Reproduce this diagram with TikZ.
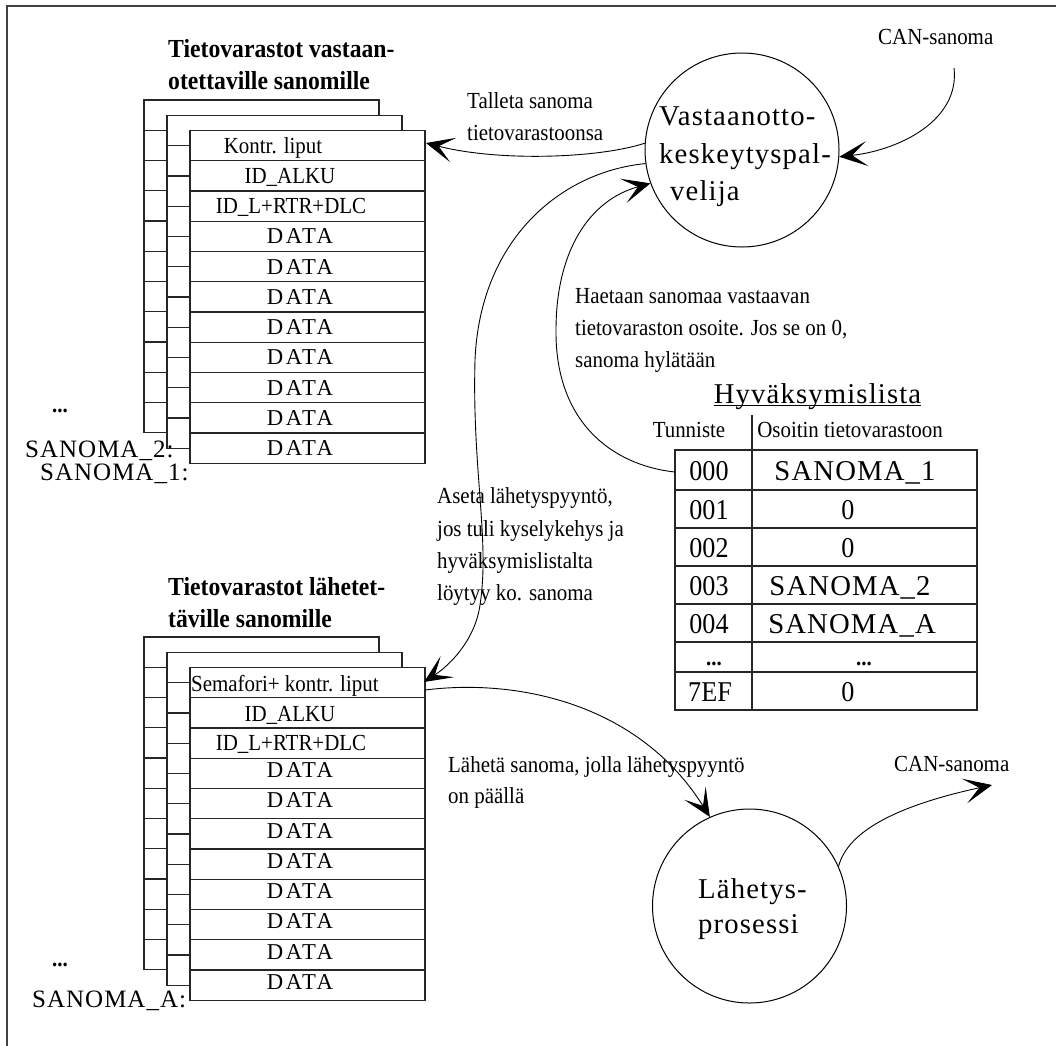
\documentclass[tikz,border=0pt]{standalone}
\usepackage{fontspec}
\setmainfont{Liberation Serif}
\newfontfamily\bodyfont[FakeStretch=0.91]{Liberation Serif}
\newfontfamily\spacedfont[LetterSpace=4]{Liberation Serif}
\newfontfamily\datafont[LetterSpace=11]{Liberation Serif}
\usetikzlibrary{arrows.meta}

% three overlapping record tables, back to front; #1 = top edge of the back table
\newcommand\drawstack[1]{%
  \foreach \dx/\dy in {0/0,23/15.5,46/30.5}{%
    \filldraw[tabline,fill=white] (144+\dx,#1+\dy) rectangle ++(235,332.75);
    \foreach \r in {1,...,10}{\draw[tabline] (144+\dx,{#1+\dy+30.25*\r}) -- ++(235,0);}
  }}

\begin{document}
\begin{tikzpicture}[x=1pt,y=-1pt,
  tabline/.style={line width=1.2pt,draw=black!85},
  conn/.style={line width=0.9pt,-{Stealth[length=28pt,width=25pt,inset=15pt]}},
  proc/.style={circle,draw,line width=1pt,minimum size=194pt,inner sep=0pt},
  body/.style={font=\bodyfont\fontsize{23}{28}\selectfont,inner sep=0pt,anchor=base west},
  bodyc/.style={body,anchor=base},
  heading/.style={font=\bodyfont\fontsize{26}{32}\selectfont\bfseries,inner sep=0pt,anchor=base west},
  celltxt/.style={font=\bodyfont\fontsize{23}{28}\selectfont,inner sep=0pt,anchor=base},
  datatxt/.style={font=\datafont\fontsize{22.7}{28}\selectfont,inner sep=0pt,anchor=base},
  proctxt/.style={font=\spacedfont\fontsize{28.7}{34}\selectfont,inner sep=0pt,anchor=base west},
  reclbl/.style={font=\spacedfont\fontsize{25}{30}\selectfont,inner sep=0pt,anchor=base west},
  dots/.style={font=\bodyfont\fontsize{23}{28}\selectfont\bfseries,inner sep=0pt,anchor=base west},
  bigcell/.style={font=\bodyfont\fontsize{28.7}{34}\selectfont,inner sep=0pt,anchor=base},
  bigspaced/.style={font=\spacedfont\fontsize{28.7}{34}\selectfont,inner sep=0pt,anchor=base}
]
\useasboundingbox (0,0) rectangle (1056,1045);

% outer frame
\draw[line width=2pt,black!75] (1060,6) -- (7,6) -- (7,1050);

% ---------- receive buffers ----------
\node[heading] (ttlRx1) at (168,57.5) {Tietovarastot vastaan-};
\node[heading] (ttlRx2) at (168,89) {otettaville sanomille};
\drawstack{100}
\node[celltxt] (rxC1) at (273,153.1) {Kontr. liput};
\node[celltxt] (rxC2) at (290,183.4) {ID\_ALKU};
\node[celltxt] (rxC3) at (291,213.6) {ID\_L+RTR+DLC};
\foreach \i in {4,...,11}{\node[datatxt] (rxD\i) at (300,{122.9+30.25*\i}) {DATA};}
\node[dots] (rxDots) at (52,412) {...};
\node[reclbl] (rxLbl2) at (25,457) {SANOMA\_2:};
\node[reclbl] (rxLbl1) at (40,480) {SANOMA\_1:};
\coordinate (rxIn) at (426,143);

% ---------- transmit buffers ----------
\node[heading] (ttlTx1) at (168,595) {Tietovarastot lähetet-};
\node[heading] (ttlTx2) at (168,627) {täville sanomille};
\drawstack{637}
\node[body] (txC1) at (191,691) {Semafori+ kontr. liput};
\node[celltxt] (txC2) at (290,721) {ID\_ALKU};
\node[celltxt] (txC3) at (291,750.5) {ID\_L+RTR+DLC};
\foreach \i in {4,...,11}{\node[datatxt] (txD\i) at (300,{656.5+30.25*\i}) {DATA};}
\node[dots] (txDots) at (52,966) {...};
\node[reclbl] (txLblA) at (32,1007) {SANOMA\_A:};
\coordinate (txIn) at (424,682);
\coordinate (txOut) at (425,690);

% ---------- processes ----------
\node[proc] (vk) at (742,150) {};
\node[proctxt] (vkT1) at (659,125) {Vastaanotto-};
\node[proctxt] (vkT2) at (659,163) {keskeytyspal-};
\node[proctxt] (vkT3) at (670,200) {velija};

\node[proc] (lp) at (749.5,906) {};
\node[proctxt] (lpT1) at (698,898) {Lähetys-};
\node[proctxt] (lpT2) at (698,933) {prosessi};

% ---------- acceptance list ----------
\node[bigspaced] (hyvTitle) at (817.5,403) {Hyväksymislista};
\draw[line width=0.9pt] ([yshift=-2.5pt]hyvTitle.base west) -- ([yshift=-2.5pt]hyvTitle.base east);
\node[bodyc] (hdrId) at (689,437) {Tunniste};
\node[bodyc] (hdrPtr) at (850,437) {Osoitin tietovarastoon};
\draw[tabline] (675,450) rectangle (977,710);
\foreach \yy in {490,528,566,604,642,672}{\draw[tabline] (675,\yy) -- (977,\yy);}
\draw[tabline] (752,415) -- (752,710);
\node[bigcell] (id0) at (709,480) {000};
\node[bigcell] (id1) at (709,519) {001};
\node[bigcell] (id2) at (709,557) {002};
\node[bigcell] (id3) at (709,595) {003};
\node[bigcell] (id4) at (709,633) {004};
\node[dots,anchor=base] (idDots) at (714,665) {...};
\node[bigcell] (id7) at (710,701) {7EF};
\node[bigspaced] (p0) at (855,480) {SANOMA\_1};
\node[bigcell] (p1) at (848,519) {0};
\node[bigcell] (p2) at (848,557) {0};
\node[bigspaced] (p3) at (850,595) {SANOMA\_2};
\node[bigspaced] (p4) at (852,633) {SANOMA\_A};
\node[dots,anchor=base] (pDots) at (864,665) {...};
\node[bigcell] (p7) at (848,701) {0};
\coordinate (hyvOut) at (675,472);

% ---------- labels ----------
\node[body] (lblTal1) at (467,108) {Talleta sanoma};
\node[body] (lblTal2) at (467,140) {tietovarastoonsa};
\node[body] (lblCanIn) at (878,44) {CAN-sanoma};
\node[body] (lblHae1) at (575,303) {Haetaan sanomaa vastaavan};
\node[body] (lblHae2) at (575,335) {tietovaraston osoite. Jos se on 0,};
\node[body] (lblHae3) at (575,367) {sanoma hylätään};
\node[body] (lblAs1) at (437,503) {Aseta lähetyspyyntö,};
\node[body] (lblAs2) at (437,536) {jos tuli kyselykehys ja};
\node[body] (lblAs3) at (437,568) {hyväksymislistalta};
\node[body] (lblAs4) at (437,600) {löytyy ko. sanoma};
\node[body] (lblLa1) at (448,772) {Lähetä sanoma, jolla lähetyspyyntö};
\node[body] (lblLa2) at (448,803) {on päällä};
\node[body] (lblCanOut) at (894,771) {CAN-sanoma};
\coordinate (canIn) at (954,68);
\coordinate (canOut) at (992,785);

% ---------- connectors ----------
\draw[conn] (canIn) .. controls (960,120) and (900,150) .. (vk.-4);
\draw[conn] (vk.176) .. controls (600,158) and (500,162) .. (rxIn);
\draw[conn] (hyvOut) .. controls (610,465) and (555,420) .. (556,330)
  .. controls (556,250) and (590,200) .. (vk.200);
\draw[conn] (vk.188) .. controls (560,172) and (480,240) .. (475,360)
  .. controls (472,470) and (490,540) .. (480,605)
  .. controls (475,640) and (450,665) .. (txIn);
\draw[conn] (txOut) .. controls (520,678) and (640,705) .. (lp.114);
\draw[conn] (lp.24) .. controls (848,830) and (900,805) .. (canOut);
\end{tikzpicture}
\end{document}
